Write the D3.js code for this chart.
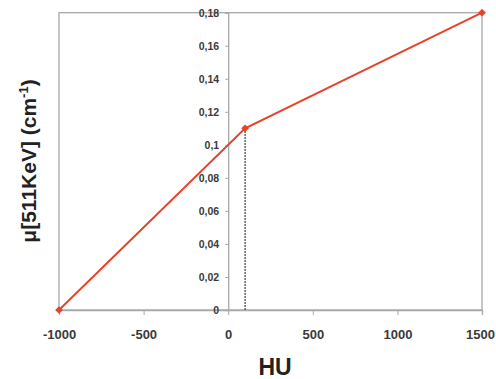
<!DOCTYPE html>
<html><head><meta charset="utf-8">
<script src="https://cdn.jsdelivr.net/npm/d3@7"></script>
<style>body{margin:0;background:#fff;}svg{display:block;}</style>
</head><body>
<script>
const huValues = [-1000, 100, 1500];
const muValues = [0, 0.11, 0.18];
const xTicks = [-1000, -500, 0, 500, 1000, 1500];
const yTicks = [0, 0.02, 0.04, 0.06, 0.08, 0.1, 0.12, 0.14, 0.16, 0.18];
const dottedAt = 100;

const W = 496, H = 379;
const svg = d3.select("body").append("svg").attr("width", W).attr("height", H);
const x = d3.scaleLinear().domain([-1000, 1500]).range([59, 482]);
const y = d3.scaleLinear().domain([0, 0.18]).range([310, 12.7]);
const frame = "#a8a8a8";
const red = "#e5432a";
const fmt = d => d === 0 ? "0" : String(+d.toFixed(2)).replace(".", ",");
const font = "Liberation Sans, Arial, sans-serif";

// frame
svg.append("rect").attr("x", x(-1000)).attr("y", y(0.18))
  .attr("width", x(1500) - x(-1000)).attr("height", y(0) - y(0.18))
  .attr("fill", "none").attr("stroke", frame).attr("stroke-width", 1.3);

// x axis
const gx = svg.append("g").attr("transform", `translate(0,${y(0)})`)
  .call(d3.axisBottom(x).tickValues(xTicks).tickSize(5).tickFormat(d => String(d)));
gx.select(".domain").attr("stroke", frame).attr("stroke-width", 1.3);
gx.selectAll(".tick line").attr("stroke", frame);
gx.selectAll("text").attr("dy", "0").attr("y", 29)
  .attr("x", d => d === 1500 ? -2 : 0)
  .style("font-family", font).style("font-size", "13px")
  .style("font-weight", "bold").attr("fill", "#3a3a3a");

// y axis at x=0
const gy = svg.append("g").attr("transform", `translate(${x(0)},0)`)
  .call(d3.axisLeft(y).tickValues(yTicks).tickSize(3).tickFormat(fmt));
gy.select(".domain").attr("stroke", frame).attr("stroke-width", 1.3);
gy.selectAll(".tick line").attr("stroke", frame);
gy.selectAll("text").attr("x", -9)
  .style("font-family", font).style("font-size", "10.5px")
  .style("font-weight", "bold").attr("fill", "#3a3a3a");

// dotted line
svg.append("line").attr("x1", x(dottedAt)).attr("x2", x(dottedAt))
  .attr("y1", y(muValues[1])).attr("y2", y(0))
  .attr("stroke", "#222").attr("stroke-width", 1.4).attr("stroke-dasharray", "1.5,1.5");

// series line
const pts = huValues.map((h, i) => [h, muValues[i]]);
svg.append("path").datum(pts)
  .attr("d", d3.line().x(d => x(d[0])).y(d => y(d[1])))
  .attr("fill", "none").attr("stroke", red).attr("stroke-width", 2);
svg.selectAll(".m").data(pts).enter().append("path")
  .attr("transform", d => `translate(${x(d[0])},${y(d[1])}) rotate(45)`)
  .attr("d", d3.symbol().type(d3.symbolSquare).size(30))
  .attr("fill", red);

// titles
svg.append("text").attr("x", 275).attr("y", 375).attr("text-anchor", "middle")
  .style("font-family", font).style("font-size", "23px")
  .style("font-weight", "bold").attr("fill", "#222").text("HU");
const yt = svg.append("text").attr("transform", "translate(36,161) rotate(-90)")
  .attr("text-anchor", "middle")
  .style("font-family", font).style("font-size", "21px")
  .style("font-weight", "bold").attr("fill", "#222");
yt.append("tspan").text("μ[511KeV] (cm");
yt.append("tspan").attr("dy", -8).style("font-size", "13px").text("-1");
yt.append("tspan").attr("dy", 8).text(")");
</script>
</body></html>
